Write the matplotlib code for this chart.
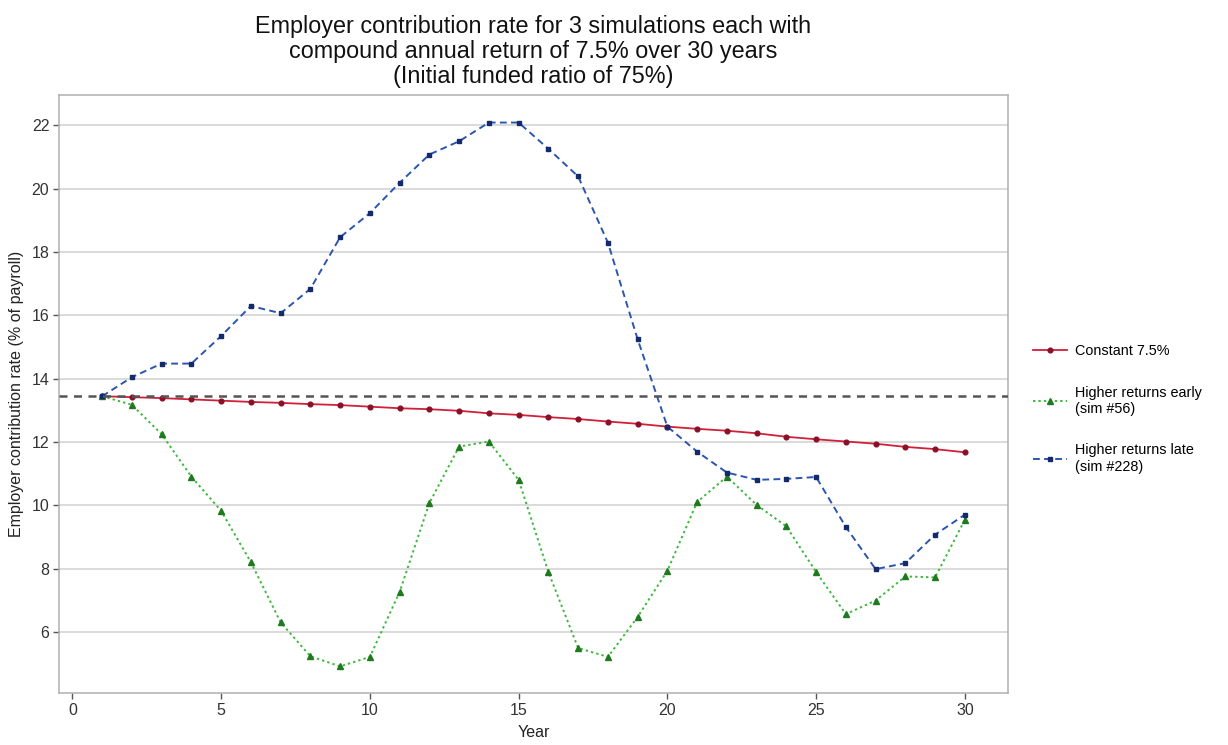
import matplotlib
matplotlib.use("Agg")
import matplotlib.pyplot as plt

plt.rcParams['font.family'] = ['Liberation Sans', 'DejaVu Sans']

years = list(range(1, 31))
constant = [13.45, 13.42, 13.39, 13.35, 13.31, 13.27, 13.24, 13.20, 13.17, 13.12,
            13.07, 13.04, 12.99, 12.91, 12.86, 12.79, 12.73, 12.65, 12.58, 12.49,
            12.42, 12.36, 12.28, 12.17, 12.09, 12.02, 11.95, 11.85, 11.78, 11.68]
early = [13.45, 13.18, 12.25, 10.91, 9.83, 8.21, 6.31, 5.24, 4.92, 5.22,
         7.27, 10.08, 11.86, 12.02, 10.81, 7.90, 5.50, 5.22, 6.48, 7.94,
         10.11, 10.91, 10.02, 9.34, 7.90, 6.57, 7.00, 7.76, 7.73, 9.55]
late = [13.45, 14.05, 14.48, 14.48, 15.35, 16.30, 16.07, 16.84, 18.47, 19.23,
        20.19, 21.08, 21.50, 22.09, 22.09, 21.26, 20.39, 18.30, 15.25, 12.49,
        11.70, 11.04, 10.81, 10.84, 10.90, 9.32, 7.99, 8.18, 9.08, 9.71]
baseline = 13.45
series_labels = ["Constant 7.5%", "Higher returns early\n(sim #56)", "Higher returns late\n(sim #228)"]
x_ticks = [0, 5, 10, 15, 20, 25, 30]
y_ticks = [6, 8, 10, 12, 14, 16, 18, 20, 22]

fig = plt.figure(figsize=(12.28, 7.45), dpi=100)
ax = fig.add_axes([59/1228, 1-693/745, (1008-59)/1228, (693-95)/745])

ax.axhline(baseline, color="#555555", lw=1.8, ls=(0, (3.2, 2.6)), zorder=5)

ax.plot(years, constant, color="#d0203a", lw=1.3, ls="-", marker="o", ms=3.4,
        mfc="#8a1028", mec="#8a1028", zorder=3, label=series_labels[0])
ax.plot(years, early, color="#3cb83c", lw=1.4, ls=(0, (1.2, 1.6)), marker="^", ms=4.0,
        mfc="#1f7a1f", mec="#1f7a1f", zorder=3, label=series_labels[1])
ax.plot(years, late, color="#2a55b0", lw=1.4, ls=(0, (3.5, 2.2)), marker="s", ms=3.4,
        mfc="#152a6a", mec="#152a6a", zorder=4, label=series_labels[2])

ax.set_xlim(-0.45, 31.45)
ax.set_ylim(4.08, 22.96)
ax.set_xticks(x_ticks)
ax.set_yticks(y_ticks)
ax.yaxis.grid(True, color="#d8d8d8", lw=1.3)
ax.xaxis.grid(False)
ax.set_axisbelow(True)
for s in ax.spines.values():
    s.set_color("#b0b0b0")
    s.set_linewidth(1.1)
ax.tick_params(axis="both", length=4, width=1, color="#555555", labelsize=11.5,
               labelcolor="#333333", pad=3)

ax.set_xlabel("Year", fontsize=11.5, color="#222222", labelpad=5)
ax.set_ylabel("Employer contribution rate (% of payroll)", fontsize=11.5, color="#222222", labelpad=5)
ax.set_title("Employer contribution rate for 3 simulations each with\n"
             "compound annual return of 7.5% over 30 years\n"
             "(Initial funded ratio of 75%)", fontsize=16.8, color="#111111",
             linespacing=1.1, pad=9)

leg = ax.legend(loc="center left", bbox_to_anchor=(1.02, 0.475), frameon=False,
                fontsize=10.4, handlelength=2.4, labelspacing=1.9, handletextpad=0.5,
                borderaxespad=0)

fig.savefig("out.png", dpi=100)
